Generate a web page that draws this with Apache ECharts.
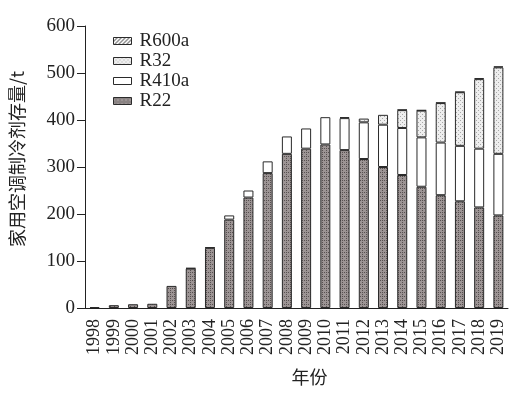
<!DOCTYPE html>
<html><head><meta charset="utf-8">
<script src="https://cdn.jsdelivr.net/npm/echarts@6/dist/echarts.min.js"></script>
<style>html,body{margin:0;padding:0;background:#fff}#c{width:528px;height:397px}</style>
</head><body><div id="c"></div>
<script>
const years = ['1998','1999','2000','2001','2002','2003','2004','2005','2006','2007','2008','2009','2010','2011','2012','2013','2014','2015','2016','2017','2018','2019'];
const R22   = [2,6,8,9,47,84,128,188,235,287,328,339,348,336,317,300,283,258,240,227,214,197];
const R410a = [0,0,0,0,0,1,1,9,15,25,37,43,58,68,78,90,100,105,112,118,125,131];
const R32   = [0,0,0,0,0,0,0,0,0,0,0,0,0,2,8,21,38,57,84,114,148,184];
const R600a = [0,0,0,0,0,0,0,0,0,0,0,0,0,0,0,0,1,1,1,1,2,2];
const yTicks = [0,100,200,300,400,500,600];

function pattern(bg, dot, kind){
  const c=document.createElement('canvas');
  c.width=4;c.height=4;
  const g=c.getContext('2d');
  g.fillStyle=bg;g.fillRect(0,0,4,4);
  g.fillStyle=dot;
  if(kind==='dots'){g.fillRect(0,0,1,1);g.fillRect(2,2,1,1);g.fillRect(2,0,1,1);}
  else if(kind==='light'){g.fillRect(0,0,1,1);g.fillRect(2,2,1,1);}
  else if(kind==='hatch'){
    g.strokeStyle=dot;g.lineWidth=1;
    g.beginPath();g.moveTo(0,4);g.lineTo(4,0);g.stroke();
  }
  return {image:c,repeat:'repeat'};
}
const serif='"Liberation Serif","Times New Roman",serif';
const nz = a => a.map(v => v===0 ? null : v);
function ser(name, data, fill){
  return {name, type:'bar', stack:'t', data:nz(data), barWidth:10,
    itemStyle:{color:fill, borderColor:'#2a2a2a', borderWidth:1},
    emphasis:{disabled:true}};
}
const chart=echarts.init(document.getElementById('c'),null,{renderer:'canvas'});
chart.setOption({
  animation:false,
  grid:{left:76,right:20,top:26,bottom:89},
  legend:{orient:'vertical',left:108,top:26,itemWidth:18,itemHeight:7,itemGap:0,
    icon:'rect',
    data:['R600a','R32','R410a','R22'],
    textStyle:{fontFamily:serif,fontSize:19,color:'#222',padding:[0,0,0,3],lineHeight:20},
    itemStyle:{borderColor:'#2a2a2a',borderWidth:1}},
  xAxis:{type:'category',data:years,
    name:'年份',nameLocation:'middle',nameGap:60,
    nameTextStyle:{fontFamily:'"Noto Sans CJK SC",sans-serif',fontSize:18,color:'#222',padding:[0,0,0,26]},
    axisLine:{lineStyle:{color:'#222',width:1}},
    axisTick:{alignWithLabel:true,length:8,lineStyle:{color:'#222'}},
    axisLabel:{rotate:90,interval:0,margin:11,fontFamily:serif,fontSize:18,color:'#222'}},
  yAxis:{type:'value',min:0,max:600,interval:100,
    name:'家用空调制冷剂存量/t',nameLocation:'middle',nameGap:59,
    nameTextStyle:{fontFamily:'"Noto Sans CJK SC",sans-serif',fontSize:18,color:'#222',padding:[0,0,0,16]},
    axisLine:{show:true,lineStyle:{color:'#222',width:1}},
    axisTick:{show:true,length:8,lineStyle:{color:'#222'}},
    splitLine:{show:false},
    axisLabel:{margin:10,fontFamily:serif,fontSize:19,color:'#222',
      formatter:v=>yTicks.includes(v)?String(v):''}},
  series:[
    ser('R22',R22,pattern('#9c9494','#575050','dots')),
    ser('R410a',R410a,'#ffffff'),
    ser('R32',R32,pattern('#eeeeee','#a8a8a8','light')),
    ser('R600a',R600a,pattern('#ffffff','#222222','hatch'))
  ]
});
</script></body></html>
